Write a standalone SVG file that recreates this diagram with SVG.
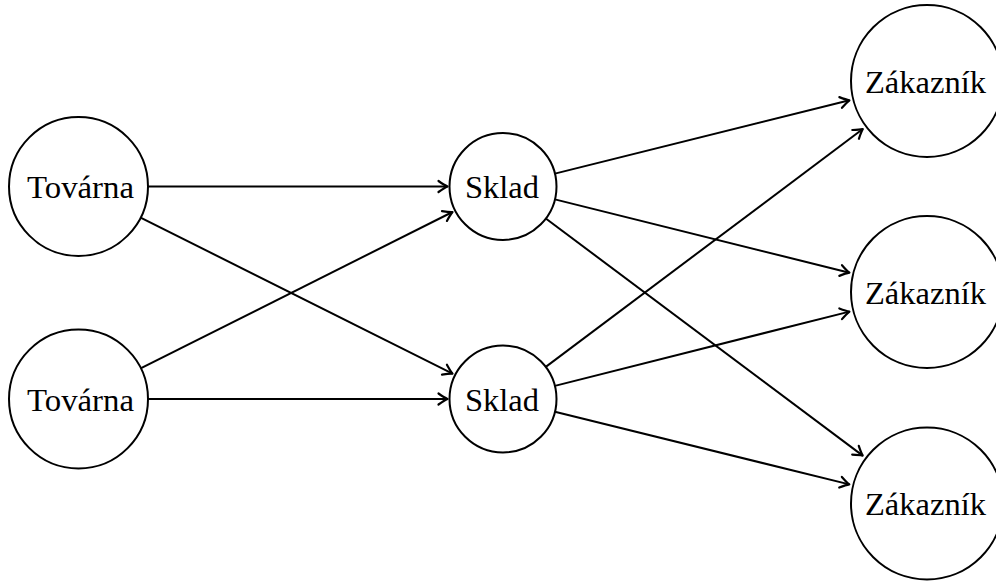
<svg xmlns="http://www.w3.org/2000/svg" width="996" height="581" viewBox="0 0 996 581">
<defs>
<style>
.node circle{fill:#fff;stroke:#000;stroke-width:2}
.node text{font-family:"Liberation Serif","Times New Roman",serif;font-size:32px;fill:#000;text-anchor:middle}
.edge{stroke:#000;stroke-width:2;fill:none;marker-end:url(#arr)}
</style>
<marker id="arr" markerUnits="userSpaceOnUse" viewBox="-12 -8 14 16" markerWidth="14" markerHeight="16" refX="0" refY="0" orient="auto" overflow="visible">
<path d="M-9,-5.5 Q-3,-1.3 0,0 Q-3,1.3 -9,5.5" fill="none" stroke="#000" stroke-width="2.2" stroke-linecap="round" stroke-linejoin="round"/>
</marker>
</defs>
<rect width="996" height="581" fill="#fff"/>
<g id="edges">
<line class="edge" x1="148" y1="186.5" x2="447.5" y2="186.5"/>
<line class="edge" x1="140.6" y1="217.6" x2="452.5" y2="373.7"/>
<line class="edge" x1="140.6" y1="368.4" x2="452.5" y2="212"/>
<line class="edge" x1="148" y1="399" x2="447.5" y2="399"/>
<line class="edge" x1="554.9" y1="173.6" x2="849.4" y2="100.3"/>
<line class="edge" x1="554.9" y1="199.4" x2="849.4" y2="272.7"/>
<line class="edge" x1="545.8" y1="218.5" x2="862.7" y2="455.6"/>
<line class="edge" x1="545.8" y1="366.9" x2="862.8" y2="129"/>
<line class="edge" x1="554.9" y1="385.9" x2="849.4" y2="311.6"/>
<line class="edge" x1="554.9" y1="411.8" x2="849.3" y2="484.4"/>
</g>
<g id="tovarna1" class="node"><circle cx="78.5" cy="186.5" r="69.5"/><text x="80.5" y="198" textLength="107" lengthAdjust="spacingAndGlyphs">Továrna</text></g>
<g id="tovarna2" class="node"><circle cx="78.5" cy="399" r="69.5"/><text x="80.5" y="410.5" textLength="107" lengthAdjust="spacingAndGlyphs">Továrna</text></g>
<g id="sklad1" class="node"><circle cx="503" cy="186.5" r="53.5"/><text x="502" y="198" textLength="74" lengthAdjust="spacingAndGlyphs">Sklad</text></g>
<g id="sklad2" class="node"><circle cx="503" cy="399" r="53.5"/><text x="502" y="410.5" textLength="74" lengthAdjust="spacingAndGlyphs">Sklad</text></g>
<g id="zakaznik1" class="node"><circle cx="927" cy="81" r="76"/><text x="925.5" y="92.5" textLength="121" lengthAdjust="spacingAndGlyphs">Zákazník</text></g>
<g id="zakaznik2" class="node"><circle cx="927" cy="292" r="76"/><text x="925.5" y="303.5" textLength="121" lengthAdjust="spacingAndGlyphs">Zákazník</text></g>
<g id="zakaznik3" class="node"><circle cx="927" cy="503.5" r="76"/><text x="925.5" y="515" textLength="121" lengthAdjust="spacingAndGlyphs">Zákazník</text></g>
</svg>
